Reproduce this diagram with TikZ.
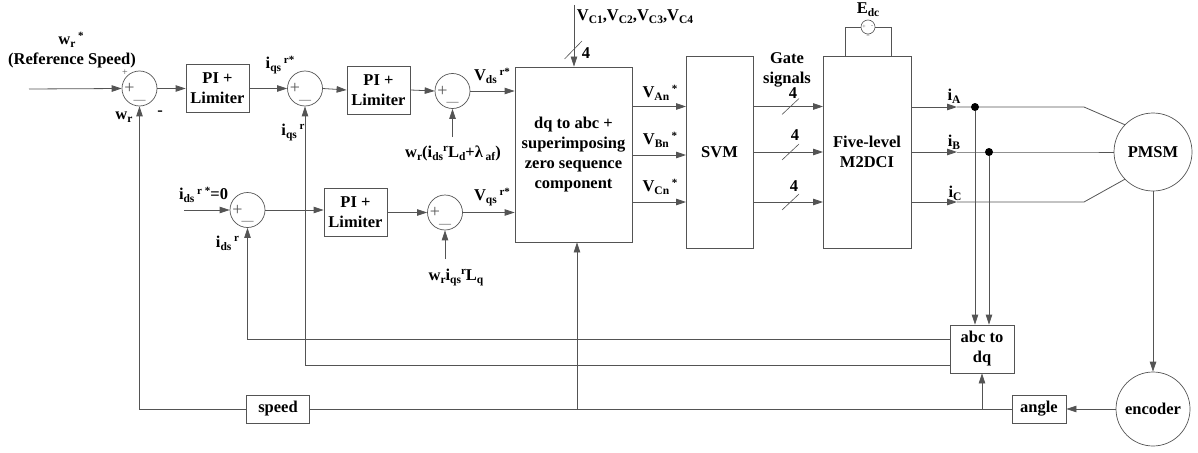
\documentclass[tikz,border=0pt]{standalone}
\usepackage{fontspec}
\setmainfont{Liberation Serif}
\usetikzlibrary{arrows.meta}
\definecolor{linegray}{gray}{0.33}
\newcommand{\sbs}[1]{\raisebox{-3pt}{\fontsize{11.5}{11.5}\selectfont #1}}
\newcommand{\sps}[1]{\raisebox{5.5pt}{\fontsize{11}{11}\selectfont #1}}
\tikzset{
  txt/.style={font=\fontsize{16.5}{20}\selectfont\bfseries, align=center, inner sep=0pt, text=black},
  blockbox/.style={draw=linegray, line width=0.8pt, inner sep=0pt, txt},
  pibox/.style={blockbox, minimum width=63pt, minimum height=48pt},
  sumnode/.style={circle, draw=linegray, line width=0.7pt, minimum size=35pt, inner sep=0pt},
  motornode/.style={circle, draw=linegray, line width=0.7pt, inner sep=0pt, txt},
  signnode/.style={font=\fontsize{18}{18}\selectfont, inner sep=0pt, text=linegray},
  dashnode/.style={font=\fontsize{12}{12}\selectfont, inner sep=0pt, text=linegray},
  tinysign/.style={font=\fontsize{6}{6}\selectfont, inner sep=0pt, text=linegray},
  flow/.style={draw=linegray, line width=0.8pt, -{Triangle[length=10pt,width=6.5pt]}},
  wire/.style={draw=linegray, line width=0.8pt},
  slashline/.style={draw=linegray, line width=0.6pt},
  junction/.style={circle, fill=black, inner sep=0pt, minimum size=8pt}
}
\begin{document}
\begin{tikzpicture}[x=1pt,y=-1pt]
    \useasboundingbox (0,0) rectangle (1198,452);
    % Summing junctions
    \foreach \name/\xx/\yy in {sumA/139.5/88.5, sumB/305/88.5, sumC/452.5/91, sumD/247.5/210, sumE/445/212.5} {
        \node[sumnode] (\name) at (\xx,\yy) {};
        \node[signnode] (\name plus) at (\xx-10,\yy) {+};
        \node[dashnode] (\name minus) at (\xx,\yy+13) {---};
    }
    % Blocks
    \node[pibox] (piA) at (217.5,88.5) {PI +\\Limiter};
    \node[pibox] (piB) at (378.5,90) {PI +\\Limiter};
    \node[pibox] (piC) at (355.5,212.5) {PI +\\Limiter};
    \node[blockbox, minimum width=117pt, minimum height=175pt] (dqabc) at (573.5,154.5) {dq to abc +\\superimposing\\zero sequence\\component};
    \node[blockbox, minimum width=67pt, minimum height=192pt] (svm) at (719.5,152) {SVM};
    \node[blockbox, minimum width=88pt, minimum height=192pt] (mdci) at (867,152) {Five-level\\M2DCI};
    \node[blockbox, minimum width=64pt, minimum height=48pt] (abcdq) at (982,349) {abc to\\dq};
    \node[blockbox, minimum width=54pt, minimum height=28pt] (angle) at (1039,409) {angle};
    \node[blockbox, minimum width=63pt, minimum height=28pt] (speed) at (278,409) {speed};
    \node[motornode, minimum size=78pt] (pmsm) at (1153,152) {PMSM};
    \node[motornode, minimum size=74pt] (encoder) at (1153,409) {encoder};
    % DC source
    \node[circle, draw=linegray, line width=0.6pt, minimum size=14pt, inner sep=0pt] (edc) at (868,27) {};
    \node[tinysign] (edcplus) at (864,27) {+};
    \node[tinysign] (edcminus) at (872,27) {-};
    \node[tinysign] (edcdc) at (868,36) {=};
    \coordinate (edcL) at (845.5,56);
    \coordinate (edcR) at (891,56);
    \draw[wire] (edcL) |- (edc.west);
    \draw[wire] (edcR) |- (edc.east);
    % Free ends
    \coordinate (refin) at (29,89);
    \coordinate (idsin) at (184,210);
    \coordinate (vcin) at (574,5);
    \coordinate (ffC) at (452.5,137);
    \coordinate (ffE) at (445,259);
    % Forward path
    \draw[flow] (refin) -- (sumA.west);
    \draw[flow] (sumA.east) -- (piA.west);
    \draw[flow] (piA.east) -- (sumB.west);
    \draw[flow] (sumB.east) -- (piB.west);
    \draw[flow] (piB.east) -- (sumC.west);
    \draw[flow] (sumC.east) -- (dqabc.west |- sumC.east);
    \draw[flow] (idsin) -- (sumD.west);
    \draw[flow] (sumD.east) -- (piC.west |- sumD.east);
    \draw[flow] (piC.east) -- (sumE.west);
    \draw[flow] (sumE.east) -- (dqabc.west |- sumE.east);
    \draw[flow] (ffC) -- (sumC.south);
    \draw[flow] (ffE) -- (sumE.south);
    \draw[flow] (vcin) -- (dqabc.north -| vcin);
    % Three phases to SVM and inverter
    \foreach \name/\yy/\yb in {A/106.5/106.5, B/155/152, C/202/202} {
        \coordinate (dqout\name) at (632.5,\yy);
        \coordinate (svmin\name) at (686,\yy);
        \coordinate (svmout\name) at (753,\yb);
        \coordinate (mdciin\name) at (823,\yb);
        \draw[flow] (dqout\name) -- (svmin\name);
        \draw[flow] (svmout\name) -- (mdciin\name);
        \coordinate (bus\name) at (790.5,\yb);
        \draw[slashline] (bus\name) +(-8.5,8) -- +(8.5,-8);
    }
    \coordinate (busV) at (573.5,50);
    \draw[slashline] (busV) +(-9,9) -- +(8.5,-9);
    % Motor phases
    \foreach \name/\yy/\ang in {A/107/136, B/152/180, C/202/224} {
        \coordinate (mdciout\name) at (911,\yy);
        \coordinate (tip\name) at (957,\yy);
        \coordinate (bend\name) at (1084,\yy);
        \draw[flow] (mdciout\name) -- (tip\name);
        \draw[wire] (tip\name) -- (bend\name) -- (pmsm.\ang);
    }
    \node[junction] (dotA) at (975,107) {};
    \node[junction] (dotB) at (989,152) {};
    \draw[flow] (dotA) -- (dotA |- abcdq.north);
    \draw[flow] (dotB) -- (dotB |- abcdq.north);
    \draw[flow] (pmsm) -- (encoder);
    \draw[flow] (encoder) -- (angle);
    % Feedback
    \coordinate (fbtap) at (982,409);
    \coordinate (dqtap) at (577,409);
    \draw[wire] (angle) -- (speed);
    \draw[flow] (fbtap) -- (abcdq.south);
    \draw[flow] (dqtap) -- (dqtap |- dqabc.south);
    \draw[flow] (speed.west) -| (sumA.south);
    \coordinate (idout) at (950,339);
    \coordinate (iqout) at (950,365);
    \draw[flow] (idout) -| (sumD.south);
    \draw[flow] (iqout) -| (sumB.south);
    % Labels
    \node[txt] (lblwref) at (71,40) {w\sbs{r}\,\sps{*}};
    \node[txt] (lblref) at (72,60) {(Reference Speed)};
    \node[signnode, font=\fontsize{10}{10}\selectfont] (lblplus) at (125,73) {+};
    \node[txt] (lblwr) at (124,117) {w\sbs{r}};
    \node[txt] (lblminus) at (160,113) {-};
    \node[txt] (lbliqsref) at (280,65) {i\sbs{qs}\,\sps{r*}};
    \node[txt] (lbliqs) at (293,132) {i\sbs{qs}\,\sps{r}};
    \node[txt] (lblvds) at (492,76) {V\sbs{ds}\,\sps{r*}};
    \node[txt] (lblffC) at (453,153) {w\sbs{r}(i\sbs{ds}\sps{r}L\sbs{d}+λ\,\sbs{af})};
    \node[txt] (lblidsref) at (203.5,195) {i\sbs{ds}\,\sps{r}\,\sps{*}=0};
    \node[txt] (lblids) at (227.5,243) {i\sbs{ds}\,\sps{r}};
    \node[txt] (lblvqs) at (492,197) {V\sbs{qs}\,\sps{r*}};
    \node[txt] (lblffE) at (456,277) {w\sbs{r}i\sbs{qs}\sps{r}L\sbs{q}};
    \node[txt] (lblvc) at (635,17) {V\sbs{C1},V\sbs{C2},V\sbs{C3},V\sbs{C4}};
    \node[txt] (lblfourV) at (586,53) {4};
    \node[txt] (lblvan) at (660,93) {V\sbs{An}\,\sps{*}};
    \node[txt] (lblvbn) at (660,140) {V\sbs{Bn}\,\sps{*}};
    \node[txt] (lblvcn) at (660,187) {V\sbs{Cn}\,\sps{*}};
    \node[txt] (lblgate) at (787,70) {Gate\\signals};
    \node[txt] (lblfourA) at (793,93) {4};
    \node[txt] (lblfourB) at (795,135) {4};
    \node[txt] (lblfourC) at (794,186) {4};
    \node[txt] (lblia) at (954,96) {i\sbs{A}};
    \node[txt] (lblib) at (954,142) {i\sbs{B}};
    \node[txt] (lblic) at (955,193) {i\sbs{C}};
    \node[txt] (lbledc) at (868,10) {E\sbs{dc}};
\end{tikzpicture}
\end{document}
